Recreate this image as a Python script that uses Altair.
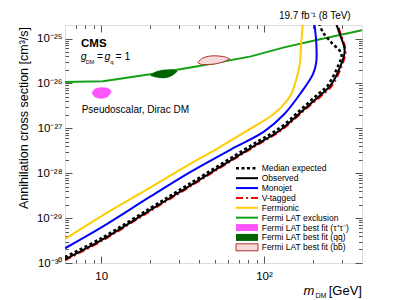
import altair as alt
import pandas as pd

# ---------------- data ----------------
# Observed limit
obs_m = [6.0, 10.1, 20.0, 34.6, 83.2, 127.4, 176.6, 225, 255, 290, 313, 292, 278]
obs_xs = [1.21e-30, 3.27e-30, 1.51e-29, 5.09e-29, 3.68e-28, 9.44e-28, 2.65e-27,
          5.73e-27, 8.79e-27, 2.08e-26, 5.33e-26, 1.26e-25, 2.1e-25]
# Median expected
exp_m = [6.0, 10.1, 20.0, 34.6, 83.2, 127.4, 169, 214, 245, 285, 299, 259, 230, 219]
exp_xs = [1.36e-30, 3.62e-30, 1.66e-29, 5.70e-29, 4.14e-28, 1.07e-27, 2.65e-27,
          5.73e-27, 8.79e-27, 2.46e-26, 4.5e-26, 8.2e-26, 1.38e-25, 2.1e-25]
# V-tagged
vtag_m = [6.0, 10.1, 20.0, 34.6, 83.2, 127.4, 176.6, 228, 259, 294, 317, 296, 282]
vtag_xs = [1.15e-30, 3.1e-30, 1.43e-29, 4.85e-29, 3.5e-28, 8.95e-28, 2.5e-27,
           5.5e-27, 8.5e-27, 2.0e-26, 5.3e-26, 1.26e-25, 2.1e-25]
# Monojet
mono_m = [6.0, 10.1, 20.0, 34.6, 62.5, 100.5, 133, 169, 200, 209.5, 209.5, 204]
mono_xs = [2.13e-30, 6.30e-30, 3.0e-29, 1.02e-28, 3.37e-28, 8.53e-28, 2.05e-27,
           6.25e-27, 1.61e-26, 2.98e-26, 8.2e-26, 2.1e-25]
# Fermionic
ferm_m = [6.0, 10.1, 20.0, 34.6, 50.6, 83.2, 110, 131, 147, 158, 166, 169, 173]
ferm_xs = [3.39e-30, 1.12e-29, 4.77e-29, 1.56e-28, 3.37e-28, 1.0e-27, 1.85e-27,
           3.25e-27, 5.73e-27, 1.24e-26, 2.69e-26, 7.16e-26, 2.1e-25]
# Fermi LAT exclusion
fermi_m = [6.0, 10.3, 20.0, 40.8, 83.2, 133, 214, 400]
fermi_xs = [1.08e-26, 1.12e-26, 1.6e-26, 2.46e-26, 4.0e-26, 6.35e-26, 9.4e-26, 1.53e-25]
# Fermi LAT best-fit regions (upper / lower edge)
tau_m = [8.76, 9.18, 10.0, 10.9, 11.6]
tau_hi = [6.19e-27, 7.6e-27, 8.22e-27, 8.0e-27, 6.7e-27]
tau_lo = [6.19e-27, 4.91e-27, 4.55e-27, 4.91e-27, 6.7e-27]
qq_m = [20.0, 21.5, 24.2, 27.0, 29.5]
qq_hi = [1.49e-26, 1.83e-26, 2.02e-26, 2.08e-26, 1.87e-26]
qq_lo = [1.49e-26, 1.38e-26, 1.31e-26, 1.45e-26, 1.87e-26]
bb_m = [39.3, 42.0, 49.1, 56.6, 61.7]
bb_hi = [2.9e-26, 3.66e-26, 4.12e-26, 3.95e-26, 3.47e-26]
bb_lo = [2.9e-26, 2.62e-26, 2.69e-26, 3.05e-26, 3.47e-26]

# axis ticks / labels
X_MAJOR = [10, 100]
X_MINOR = [7, 8, 9, 20, 30, 40, 50, 60, 70, 80, 90, 200, 300]
Y_EXP = [-30, -29, -28, -27, -26, -25]
Y_MAJOR = [10.0 ** e for e in Y_EXP]
Y_MINOR = [j * 10.0 ** e for e in Y_EXP[:-1] for j in range(2, 10)]

LEGEND_LABELS = ["Median expected", "Observed", "Monojet", "V-tagged", "Fermionic",
                 "Fermi LAT exclusion", "Fermi LAT best fit (τ⁺τ⁻)",
                 "Fermi LAT best fit (qq̄)", "Fermi LAT best fit (bb̄)"]

# ---------------- styling ----------------
FONT = "Liberation Sans"
AX = "#555555"
W, H = 297, 238
C_EXP, C_OBS, C_MONO, C_VTAG = "black", "black", "#0000ff", "#ff0000"
C_FERM, C_FERMI = "#ffcc00", "#14a014"
C_TAU, C_QQ, C_BB, C_BBF = "#ff55ff", "#006400", "#b03030", "#f6dada"
DASH_EXP, DASH_VTAG = [3, 2.5], [7, 3, 2, 3]

XS = alt.Scale(type="log", domain=[6, 400], nice=False)
YS = alt.Scale(type="log", domain=[1e-30, 2e-25], nice=False)

SUP = str.maketrans("-0123456789", "⁻⁰¹²³⁴⁵⁶⁷⁸⁹")
y_label_expr = " : ".join(
    f"round(log(datum.value)/LN10) == {e} ? '10{str(e).translate(SUP)}'" for e in Y_EXP
) + " : ''"
x_label_expr = "datum.value < 50 ? '10' : '10²'"


def curve_df(ms, xs):
    return pd.DataFrame({"m": ms, "xs": xs, "i": list(range(len(ms)))})


def curve(ms, xs, color, width, dash=None):
    kw = dict(color=color, strokeWidth=width, clip=True, interpolate="catmull-rom")
    if dash:
        kw["strokeDash"] = dash
    return alt.Chart(curve_df(ms, xs)).mark_line(**kw).encode(
        x=alt.X("m:Q", scale=XS, axis=None),
        y=alt.Y("xs:Q", scale=YS, axis=None),
        order="i:Q",
    )


def blob(ms, hi, lo, fill, stroke=None):
    df = pd.DataFrame({"m": ms, "hi": hi, "lo": lo})
    kw = dict(color=fill, clip=True, interpolate="monotone")
    if stroke:
        kw.update(stroke=stroke, strokeWidth=1)
    return alt.Chart(df).mark_area(**kw).encode(
        x=alt.X("m:Q", scale=XS, axis=None),
        y=alt.Y("hi:Q", scale=YS, axis=None),
        y2="lo:Q",
    )


fermi_df = curve_df(fermi_m, fermi_xs)

# Fermi exclusion line carries the labelled axes
fermi_line = alt.Chart(fermi_df).mark_line(color=C_FERMI, strokeWidth=2, clip=True).encode(
    x=alt.X("m:Q", scale=XS, axis=alt.Axis(
        orient="bottom", values=X_MAJOR, labelExpr=x_label_expr, ticks=False, tickSize=0,
        domain=False, grid=False, labelFont=FONT, labelFontSize=11.5, labelColor="black",
        labelPadding=7, title=None)),
    y=alt.Y("xs:Q", scale=YS, axis=alt.Axis(
        orient="left", values=Y_MAJOR, labelExpr=y_label_expr, ticks=False, tickSize=0,
        domain=False, grid=False, labelFont=FONT, labelFontSize=11.5, labelColor="black",
        labelPadding=3, title=None)),
    order="i:Q",
)


def tick_layer(xo, yo, xv, yv, size):
    return alt.Chart(fermi_df).mark_point(opacity=0).encode(
        x=alt.X("m:Q", scale=XS, axis=alt.Axis(
            orient=xo, offset=-H, values=xv, labels=False, domain=False, grid=False,
            tickSize=size, tickColor=AX, tickWidth=1, title=None)),
        y=alt.Y("xs:Q", scale=YS, axis=alt.Axis(
            orient=yo, offset=-W, values=yv, labels=False, domain=False, grid=False,
            tickSize=size, tickColor=AX, tickWidth=1, title=None)),
    )


one = alt.Data(values=[{}])


def txt(s, x, y, size, align="left", baseline="alphabetic", **kw):
    return alt.Chart(one).mark_text(text=s, font=FONT, fontSize=size, align=align,
                                    baseline=baseline, color="black", **kw).encode(
        x=alt.value(x), y=alt.value(y))


layers = [
    fermi_line,
    tick_layer("top", "right", X_MAJOR, Y_MAJOR, 7),
    tick_layer("top", "right", X_MINOR, Y_MINOR, 3.5),
    tick_layer("bottom", "left", X_MAJOR, Y_MAJOR, 7),
    tick_layer("bottom", "left", X_MINOR, Y_MINOR, 3.5),
    blob(tau_m, tau_hi, tau_lo, C_TAU),
    blob(qq_m, qq_hi, qq_lo, C_QQ),
    blob(bb_m, bb_hi, bb_lo, C_BBF, C_BB),
    curve(ferm_m, ferm_xs, C_FERM, 2),
    curve(mono_m, mono_xs, C_MONO, 2),
    curve(vtag_m, vtag_xs, C_VTAG, 2, DASH_VTAG),
    curve(obs_m, obs_xs, C_OBS, 2),
    curve(exp_m, exp_xs, C_EXP, 2.5, DASH_EXP),
]

# annotations
layers += [
    txt("CMS", 16, 22, 11.5, fontWeight="bold"),
    txt("g", 15.7, 35, 10.5, fontStyle="italic"),
    txt("DM", 20.8, 38.5, 5.5),
    txt("=", 32, 35, 10.5),
    txt("g", 39.5, 35, 10.5, fontStyle="italic"),
    txt("q", 45.3, 38.5, 6),
    txt("= 1", 50.5, 35, 10.5),
    txt("Pseudoscalar, Dirac DM", 16.7, 88, 10),
    txt("19.7 fb⁻¹ (8 TeV)", 285.7, -6, 10, align="right"),
    txt("m", 238.5, 270, 13, fontStyle="italic"),
    txt("DM", 250.5, 272.5, 7),
    txt("[GeV]", 297, 270, 13, align="right"),
    txt("Annihilation cross section [cm³/s]", -37.5, 2, 12.5, align="right", angle=270),
]

# legend
LX0, LX1, LTX, LY0, LDY = 171, 193, 196.7, 143.3, 9.875
line_styles = [(C_EXP, 2.5, DASH_EXP), (C_OBS, 2, None), (C_MONO, 2, None),
               (C_VTAG, 2, DASH_VTAG), (C_FERM, 2, None), (C_FERMI, 2, None)]
fill_styles = [(C_TAU, None), (C_QQ, None), (C_BBF, C_BB)]
for i, lab in enumerate(LEGEND_LABELS):
    yc = LY0 + i * LDY
    if i < len(line_styles):
        col, wd, dash = line_styles[i]
        kw = dict(color=col, strokeWidth=wd)
        if dash:
            kw["strokeDash"] = dash
        layers.append(alt.Chart(one).mark_rule(**kw).encode(
            x=alt.value(LX0), x2=alt.value(LX1), y=alt.value(yc)))
    else:
        col, st = fill_styles[i - len(line_styles)]
        kw = dict(color=col)
        if st:
            kw.update(stroke=st, strokeWidth=1)
        layers.append(alt.Chart(one).mark_rect(**kw).encode(
            x=alt.value(LX0), x2=alt.value(LX1), y=alt.value(yc - 3.5), y2=alt.value(yc + 3.5)))
    layers.append(txt(lab, LTX, yc, 8.5, baseline="middle"))

chart = alt.layer(*layers).resolve_axis(x="independent", y="independent").properties(
    width=W, height=H,
    autosize=alt.AutoSizeParams(type="none"),
    padding={"left": 57, "top": 17, "right": 30, "bottom": 36},
).configure_view(stroke=AX, strokeWidth=1).configure(background="white")

chart.save("out.html", embed_options={"renderer": "svg", "actions": False})
